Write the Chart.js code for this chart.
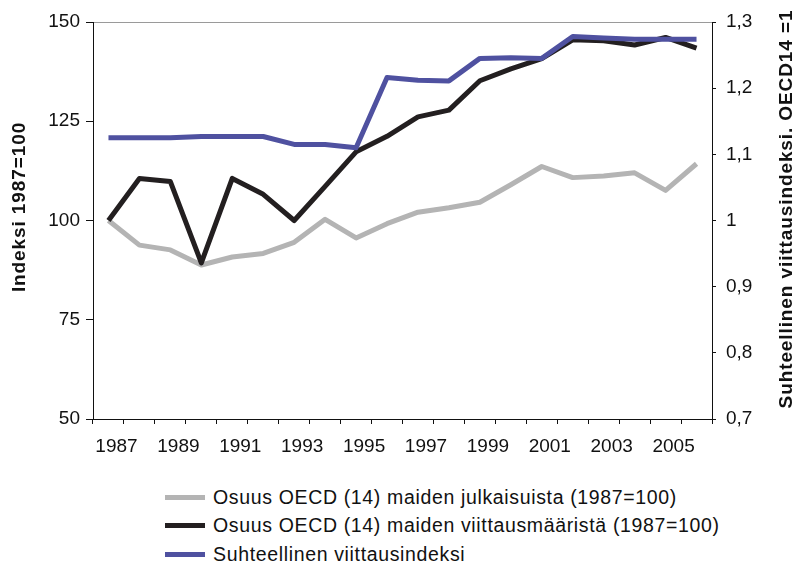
<!DOCTYPE html>
<html>
<head>
<meta charset="utf-8">
<script src="https://cdn.jsdelivr.net/npm/chart.js@4.4.1/dist/chart.umd.min.js"></script>
<style>
  body { margin: 0; background: #fff; font-family: "Liberation Sans", Arial, sans-serif; }
  #wrap { position: relative; width: 794px; height: 565px; }
  #legend { position: absolute; left: 165px; top: 483px; }
  .item { display: flex; align-items: center; height: 28.5px; font-size: 19.5px; letter-spacing: 0.65px; color: #111; }
  .swatch { width: 40px; height: 5px; margin-right: 8px; }
</style>
</head>
<body>
<div id="wrap">
  <canvas id="chart" width="794" height="470"></canvas>
  <div id="legend"></div>
</div>
<script>
// -------------------------
// Data
// -------------------------
const YEARS = ["1987", "1988", "1989", "1990", "1991", "1992", "1993", "1994", "1995", "1996",
               "1997", "1998", "1999", "2000", "2001", "2002", "2003", "2004", "2005", "2006"];

// Osuus OECD (14) maiden julkaisuista (1987=100)
const PUBLICATIONS = [100, 93.8, 92.6, 88.8, 90.8, 91.7, 94.5, 100.3, 95.6, 99.2,
                      102.1, 103.2, 104.6, 109.0, 113.6, 110.8, 111.2, 112.0, 107.6, 114.3];

// Osuus OECD (14) maiden viittausmääristä (1987=100)
const CITATIONS = [100, 110.6, 109.8, 89.3, 110.6, 106.6, 100, 108.6, 117.3, 121.2,
                   126.1, 127.8, 135.2, 138.2, 140.8, 145.5, 145.3, 144.2, 146.1, 143.4];

// Suhteellinen viittausindeksi (right axis, OECD14 = 1)
const RELATIVE_INDEX = [1.125, 1.125, 1.125, 1.127, 1.127, 1.127, 1.115, 1.115, 1.110, 1.216,
                        1.212, 1.211, 1.245, 1.246, 1.245, 1.278, 1.276, 1.274, 1.274, 1.274];

const SERIES_LABELS = [
  "Osuus OECD (14) maiden julkaisuista (1987=100)",
  "Osuus OECD (14) maiden viittausmääristä (1987=100)",
  "Suhteellinen viittausindeksi"
];
const COLORS = ["#b4b4b4", "#231f20", "#4f51a0"];

const LEFT_TITLE = "Indeksi 1987=100";
const RIGHT_TITLE = "Suhteellinen viittausindeksi. OECD14 =1";

// -------------------------
// Helpers
// -------------------------
const FONT = '"Liberation Sans", Arial, sans-serif';
Chart.defaults.font.family = FONT;
Chart.defaults.color = "#111";

function commaDecimal(v) {
  const r = Math.round(v * 10) / 10;
  return String(r).replace(".", ",");
}

// vertical titles, both reading bottom-to-top
const sideTitles = {
  id: "sideTitles",
  afterDraw(chart) {
    const ctx = chart.ctx;
    const items = [
      { text: chart.options.scales.y.title.text, x: 20, y: 207, size: 19, spacing: 0.9 },
      { text: chart.options.scales.y2.title.text, x: 787, y: 209, size: 19, spacing: 0.9 }
    ];
    items.forEach(t => {
      ctx.save();
      ctx.fillStyle = "#111";
      ctx.font = `bold ${t.size}px ${FONT}`;
      ctx.letterSpacing = `${t.spacing}px`;
      ctx.textAlign = "center";
      ctx.textBaseline = "middle";
      ctx.translate(t.x, t.y);
      ctx.rotate(-Math.PI / 2);
      ctx.fillText(t.text, 0, 0);
      ctx.restore();
    });
  }
};

// -------------------------
// Chart
// -------------------------
const datasets = [
  { label: SERIES_LABELS[0], data: PUBLICATIONS, yAxisID: "y", borderColor: COLORS[0], order: 2 },
  { label: SERIES_LABELS[1], data: CITATIONS, yAxisID: "y", borderColor: COLORS[1], order: 1 },
  { label: SERIES_LABELS[2], data: RELATIVE_INDEX, yAxisID: "y2", borderColor: COLORS[2], order: 0 }
].map(d => Object.assign(d, {
  borderWidth: 5,
  pointRadius: 0,
  tension: 0,
  fill: false,
  borderJoinStyle: "round"
}));

new Chart(document.getElementById("chart"), {
  type: "line",
  data: { labels: YEARS, datasets },
  options: {
    responsive: false,
    animation: false,
    layout: { padding: { top: 22, left: 0, right: 0, bottom: 0 } },
    plugins: { legend: { display: false }, tooltip: { enabled: false } },
    scales: {
      x: {
        offset: true,
        grid: { offset: true, drawOnChartArea: false, drawTicks: true, tickLength: 5, color: "#111" },
        border: { display: true, color: "#111", width: 1 },
        ticks: {
          autoSkip: false, maxRotation: 0, padding: 11, labelOffset: 8,
          font: { size: 19 },
          callback: (v, i) => (i % 2 === 0 ? YEARS[i] : "")
        },
        afterFit: s => { s.height = 51; }
      },
      xTop: {
        type: "category",
        position: "top",
        labels: YEARS,
        offset: true,
        grid: { display: false },
        ticks: { display: false },
        border: { display: true, color: "#9a9a9a", width: 1 },
        afterFit: s => { s.height = 0; }
      },
      y: {
        position: "left",
        min: 50, max: 150,
        grid: { drawOnChartArea: false, drawTicks: true, tickLength: 7, color: "#111" },
        border: { display: true, color: "#111", width: 1 },
        ticks: { stepSize: 25, padding: 6, font: { size: 19 } },
        title: { display: false, text: LEFT_TITLE },
        afterFit: s => { s.width = 93; }
      },
      y2: {
        position: "right",
        min: 0.7, max: 1.3,
        grid: { drawOnChartArea: false, drawTicks: true, tickLength: 4, color: "#111" },
        border: { display: true, color: "#111", width: 1 },
        ticks: { stepSize: 0.1, padding: 10, font: { size: 19 }, callback: v => commaDecimal(v) },
        title: { display: false, text: RIGHT_TITLE },
        afterFit: s => { s.width = 82; }
      }
    }
  },
  plugins: [sideTitles]
});

// -------------------------
// Legend (one item per row)
// -------------------------
const legend = document.getElementById("legend");
SERIES_LABELS.forEach((label, i) => {
  const row = document.createElement("div");
  row.className = "item";
  row.innerHTML = `<span class="swatch" style="background:${COLORS[i]}"></span><span>${label}</span>`;
  legend.appendChild(row);
});
</script>
</body>
</html>
